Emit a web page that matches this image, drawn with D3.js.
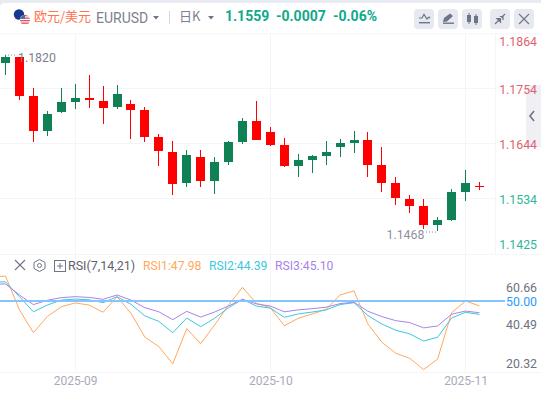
<!DOCTYPE html>
<html><head><meta charset="utf-8">
<script src="https://cdn.jsdelivr.net/npm/d3@7/dist/d3.min.js"></script>
<style>html,body{margin:0;padding:0;background:#fff;overflow:hidden}svg{display:block}
text{font-family:Roboto,"Noto Sans CJK SC",sans-serif}</style></head><body>
<svg id="c" width="541" height="394"></svg>
<script>
const opens =[1.1804,1.1816,1.1738,1.1667,1.1706,1.1726,1.1734,1.1728,1.1716,1.1722,1.1710,1.1656,1.1626,1.1564,1.1616,1.1568,1.1606,1.1646,1.1688,1.1666,1.1640,1.1598,1.1610,1.1618,1.1636,1.1644,1.1650,1.1600,1.1564,1.1532,1.1518,1.1480,1.1490,1.1546,1.1559];
const highs =[1.1820,1.1816,1.1754,1.1708,1.1754,1.1762,1.1780,1.1758,1.1760,1.1730,1.1716,1.1662,1.1648,1.1630,1.1630,1.1616,1.1648,1.1694,1.1728,1.1676,1.1654,1.1622,1.1620,1.1648,1.1652,1.1668,1.1666,1.1636,1.1576,1.1540,1.1532,1.1496,1.1552,1.1590,1.1566];
const lows  =[1.1780,1.1729,1.1645,1.1659,1.1704,1.1712,1.1714,1.1682,1.1712,1.1652,1.1646,1.1598,1.1540,1.1556,1.1556,1.1542,1.1600,1.1642,1.1650,1.1638,1.1596,1.1576,1.1584,1.1600,1.1616,1.1624,1.1576,1.1546,1.1520,1.1504,1.1472,1.1468,1.1488,1.1528,1.1550];
const closes=[1.1816,1.1738,1.1667,1.1702,1.1726,1.1734,1.1730,1.1714,1.1742,1.1710,1.1656,1.1628,1.1562,1.1620,1.1568,1.1606,1.1646,1.1688,1.1650,1.1640,1.1598,1.1610,1.1618,1.1626,1.1644,1.1650,1.1600,1.1564,1.1534,1.1518,1.1480,1.1490,1.1546,1.1564,1.15585];
const rsi1=[60.0,60.4,46.3,36.8,43.5,47.6,49.2,48.3,45.3,51.8,44.9,34.9,31.0,23.8,38.5,32.2,40.0,48.3,55.7,49.0,47.2,39.7,42.8,44.6,46.5,52.5,54.2,40.4,32.8,28.2,26.1,21.4,25.8,45.1,50.0,47.98];
const rsi2=[57.8,58.0,51.8,45.5,48.3,50.4,50.8,50.5,49.3,51.8,48.6,43.8,41.5,36.8,42.9,39.3,42.8,47.2,50.7,47.9,47.0,43.2,44.6,45.4,46.3,48.5,49.3,43.9,40.4,37.8,36.3,33.3,34.9,42.9,45.3,44.39];
const rsi3=[57.0,57.1,52.5,48.5,50.3,51.4,51.8,51.5,50.7,52.5,50.4,47.2,45.5,42.2,45.7,43.3,45.4,47.9,50.7,48.8,47.9,45.5,46.3,46.8,47.4,48.9,49.5,45.7,43.5,41.8,41.0,38.8,39.6,44.5,45.8,45.10];
const priceTicks=[1.1864,1.1754,1.1644,1.1534,1.1425];
const rsiTicks=[60.66,50.00,40.49,20.32];
const xTickIdx=[5,19,33];
const xTickLabels=["2025-09","2025-10","2025-11"];
const highLabel="1.1820", lowLabel="1.1468";
const legendSeries=[["RSI1:47.98",143,"#FFA95C"],["RSI2:44.39",209,"#3CC8E0"],["RSI3:45.10",275,"#A884E8"]];
const quote=[["1.1559",225],["-0.0007",276],["-0.06%",333]];

const W=541,H=394,grid="#F4F5FA";
const RED="#FF0000",GREEN="#108155";
const svg=d3.select("#c");
const x=d3.scaleLinear().domain([0,34]).range([5.5,479.46]);
const y=d3.scaleLinear().domain([1.1754,1.1534]).range([88,198]);
const yr=d3.scaleLinear().domain([50,20.32]).range([301,372.2]);
const px=i=>Math.floor(x(i));

// chrome
svg.append("rect").attr("width",W).attr("height",3).attr("fill","#E8EBF2");
svg.append("path").attr("d","M0 3 L5 3 Q0 3 0 8 Z").attr("fill","#E8EBF2");
svg.append("rect").attr("y",33).attr("width",W).attr("height",1.5).attr("fill","#F8F8FB");
// grid
[88,143,198].forEach(g=>svg.append("rect").attr("x",0).attr("y",g).attr("width",495).attr("height",1).attr("fill",grid));
svg.append("rect").attr("y",254).attr("width",W).attr("height",1).attr("fill",grid);
svg.append("rect").attr("y",372).attr("width",W).attr("height",1).attr("fill",grid);
svg.append("rect").attr("x",495).attr("y",33).attr("width",1).attr("height",221).attr("fill",grid);
xTickIdx.forEach(i=>svg.append("rect").attr("x",px(i)).attr("y",33).attr("width",1).attr("height",339).attr("fill",grid));

// candles
const g=svg.append("g").attr("shape-rendering","crispEdges");
const idx=d3.range(opens.length);
const col=i=>closes[i]<opens[i]?RED:GREEN;
g.selectAll(".w").data(idx).join("rect").attr("class","w").attr("x",px).attr("width",1)
 .attr("y",i=>Math.round(y(highs[i]))).attr("height",i=>Math.round(y(lows[i]))-Math.round(y(highs[i]))).attr("fill",col);
g.selectAll(".b").data(idx).join("rect").attr("class","b").attr("width",9).attr("x",i=>px(i)-4)
 .attr("y",i=>Math.round(y(Math.max(opens[i],closes[i]))))
 .attr("height",i=>Math.max(1,Math.round(y(Math.min(opens[i],closes[i])))-Math.round(y(Math.max(opens[i],closes[i])))))
 .attr("fill",col);

// high/low labels
const dots=(a,b,yy,c)=>svg.append("line").attr("x1",a).attr("x2",b).attr("y1",yy).attr("y2",yy).attr("stroke",c).attr("stroke-dasharray","1 2");
dots(5,17,55,"#888C9A");
svg.append("text").attr("x",18).attr("y",62).attr("font-size",12.3).attr("fill","#7B7F8E").text(highLabel);
dots(426,437,232,"#888C9A");
svg.append("text").attr("x",386.5).attr("y",239).attr("font-size",12.3).attr("fill","#8D909D").text(lowLabel);

// tab
svg.append("rect").attr("x",526).attr("y",85).attr("width",15).attr("height",62).attr("fill","#EDEDF3").attr("fill-opacity",.9);
svg.append("path").attr("d","M534 111 L530 116 L534 121").attr("fill","none").attr("stroke","#6E7486").attr("stroke-width",1.6);

// price axis
const ax=svg.append("g").attr("transform","translate(537,0)")
 .call(d3.axisRight(y).tickValues(priceTicks).tickSize(0).tickFormat(d3.format(".4f")));
ax.select(".domain").remove();
ax.selectAll("text").attr("x",0).attr("text-anchor","end").attr("font-size",12.3).style("font-family","Roboto")
 .attr("fill",d=>d>1.16?"#E0636F":"#2DB79B");
ax.selectAll(".tick").attr("transform",d=>`translate(0,${Math.min(245,Math.max(42,y(d)+2.5))})`);

// RSI lines
const line=d3.line().x((d,i)=>x(i-1)).y(d=>yr(d));
[[rsi1,"#FFA95C"],[rsi2,"#3CC8E0"],[rsi3,"#A884E8"]].forEach(([s,c])=>
 svg.append("path").datum(s).attr("d",line).attr("fill","none").attr("stroke",c).attr("stroke-width",1));
svg.append("rect").attr("x",0).attr("y",yr(50)-1).attr("width",505).attr("height",2).attr("fill","#86C4FB");

// rsi axis
const ar=svg.append("g").attr("transform","translate(537,0)")
 .call(d3.axisRight(yr).tickValues(rsiTicks).tickSize(0).tickFormat(d3.format(".2f")));
ar.select(".domain").remove();
ar.selectAll("text").attr("x",0).attr("text-anchor","end").attr("font-size",12.3).style("font-family","Roboto")
 .attr("fill",d=>d===50?"#2E9BFA":"#6E7280");
ar.selectAll(".tick").attr("transform",d=>`translate(0,${Math.min(364,Math.max(288,yr(d)+1))})`);

// x axis
const xa=svg.append("g").attr("transform","translate(0,372)")
 .call(d3.axisBottom(x).tickValues(xTickIdx).tickSize(0).tickFormat((d,i)=>xTickLabels[i]));
xa.select(".domain").remove();
xa.selectAll("text").attr("y",4).attr("font-size",12).style("font-family","Roboto").attr("fill","#A8ABBA");

// header
const ic="#6F7486";
const defs=svg.append("defs");
defs.append("clipPath").attr("id","us").append("circle").attr("cx",25).attr("cy",20).attr("r",5);
svg.append("circle").attr("cx",19).attr("cy",14.5).attr("r",5.2).attr("fill","#16398F");
svg.append("circle").attr("cx",25).attr("cy",20).attr("r",5.2).attr("fill","#fff");
const us=svg.append("g").attr("clip-path","url(#us)");
[15,17.5,20,22.5].forEach(t=>us.append("rect").attr("x",20).attr("y",t).attr("width",10).attr("height",1.3).attr("fill","#D9505A"));
us.append("rect").attr("x",20).attr("y",15).attr("width",5).attr("height",4).attr("fill","#5A6C9E");
svg.append("text").attr("x",34).attr("y",21).attr("font-size",13).attr("fill","#FF7350").style("font-family",'"Noto Sans CJK SC"').text("欧元/美元");
svg.append("text").attr("x",96).attr("y",23).attr("font-size",14).attr("fill","#7D818F").text("EURUSD");
svg.append("path").attr("d","M153 16 L159 16 L156 19.5 Z").attr("fill",ic);
svg.append("rect").attr("x",169).attr("y",11).attr("width",1).attr("height",13).attr("fill","#D5D8E2");
svg.append("text").attr("x",179).attr("y",21).attr("font-size",13).attr("fill","#7D818F").style("font-family",'"Noto Sans CJK SC"').text("日K");
svg.append("path").attr("d","M208 16 L214 16 L211 19.5 Z").attr("fill",ic);
quote.forEach(([t,xx])=>svg.append("text").attr("x",xx).attr("y",21).attr("font-size",14).attr("font-weight",700).attr("fill","#0FA98B").text(t));

// buttons
[414,438,462,490,514].forEach(b=>svg.append("rect").attr("x",b).attr("y",9).attr("width",20).attr("height",20).attr("rx",4).attr("fill","#E7E9F0"));
svg.append("path").attr("d","M419 18 L422 18 L424 14.5 L427 19 L429 17 L430 18").attr("fill","none").attr("stroke",ic).attr("stroke-width",1.2);
svg.append("rect").attr("x",419).attr("y",22).attr("width",11).attr("height",1.4).attr("fill",ic);
svg.append("path").attr("d","M443 22 L444 18 L450 13.5 L453 16 L447 21.5 Z").attr("fill",ic);
svg.append("rect").attr("x",443).attr("y",22.5).attr("width",11).attr("height",1.4).attr("fill",ic);
svg.append("rect").attr("x",467).attr("y",15).attr("width",4).attr("height",7).attr("fill",ic);
svg.append("rect").attr("x",468.5).attr("y",13).attr("width",1).attr("height",11).attr("fill",ic);
svg.append("rect").attr("x",474).attr("y",16).attr("width",4).attr("height",7).attr("fill",ic);
svg.append("rect").attr("x",475.5).attr("y",14).attr("width",1).attr("height",11).attr("fill",ic);
svg.append("path").attr("d","M495 24 L499 20 M497 18.5 L500.5 18.5 L500.5 22 Z M505 14 L501.5 17.5 M499.8 16.5 L502.5 16.5 M503 20 L503 16").attr("fill",ic).attr("stroke",ic).attr("stroke-width",1.2);
svg.append("path").attr("d","M519 14 L529 24 M529 14 L519 24").attr("stroke",ic).attr("stroke-width",1.1);

// rsi legend
const lc="#6F7486";
svg.append("path").attr("d","M15 260 L25 270 M25 260 L15 270").attr("stroke",lc).attr("stroke-width",1.1);
svg.append("path").attr("d","M39.5 259.5 L45 262.5 L45 268.5 L39.5 271.5 L34 268.5 L34 262.5 Z").attr("fill","none").attr("stroke",lc).attr("stroke-width",1);
svg.append("circle").attr("cx",39.5).attr("cy",265.5).attr("r",2).attr("fill","none").attr("stroke",lc);
svg.append("rect").attr("x",54.5).attr("y",260.5).attr("width",11).attr("height",11).attr("fill","none").attr("stroke",lc);
svg.append("path").attr("d","M57 266 L63 266 M60 263 L60 269").attr("stroke",lc);
svg.append("text").attr("x",68).attr("y",270).attr("font-size",12.5).attr("fill","#5E6270").text("RSI(7,14,21)");
legendSeries.forEach(([t,xx,c])=>svg.append("text").attr("x",xx).attr("y",270).attr("font-size",12.2).attr("fill",c).text(t));
</script></body></html>
